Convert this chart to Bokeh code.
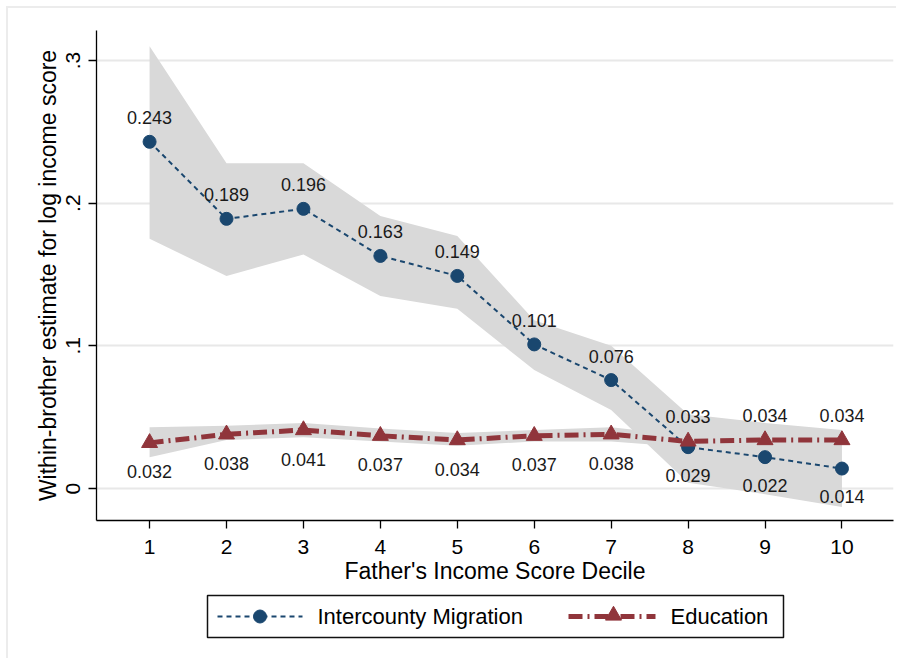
from bokeh.plotting import figure
from bokeh.layouts import column
from bokeh.models import FixedTicker, Range1d
from bokeh.core.properties import value
from bokeh.embed import file_html
from bokeh.resources import INLINE

# Father's income score deciles
deciles = [1, 2, 3, 4, 5, 6, 7, 8, 9, 10]

# Within-brother estimates: intercounty migration with its confidence band
migration = [0.243, 0.189, 0.196, 0.163, 0.149, 0.101, 0.076, 0.029, 0.022, 0.014]
migration_lo = [0.175, 0.149, 0.164, 0.135, 0.126, 0.083, 0.055, 0.004, -0.004, -0.013]
migration_hi = [0.310, 0.228, 0.228, 0.191, 0.177, 0.118, 0.100, 0.052, 0.046, 0.041]

# Within-brother estimates: education with its confidence band
education = [0.032, 0.038, 0.041, 0.037, 0.034, 0.037, 0.038, 0.033, 0.034, 0.034]
education_lo = [0.022, 0.034, 0.036, 0.033, 0.030, 0.033, 0.033, 0.029, 0.030, 0.030]
education_hi = [0.043, 0.044, 0.046, 0.042, 0.039, 0.041, 0.043, 0.037, 0.039, 0.039]

y_ticks = [0, 0.1, 0.2, 0.3]
y_tick_labels = {0: "0", 0.1: ".1", 0.2: ".2", 0.3: ".3"}

series_names = ["Intercounty Migration", "Education"]

NAVY = "#1a476f"
MAROON = "#90353b"
BAND = "#d9d9d9"
FONT = "Liberation Sans"
MIG_DASH = "5 4"
EDU_DASH = "14 5 2 5"

BORDER_L, BORDER_R = 96, 11

p = figure(
    width=904, height=590,
    output_backend="svg", toolbar_location=None,
    x_range=Range1d(0.31, 10.67), y_range=Range1d(-0.0224, 0.321),
    min_border_left=BORDER_L, min_border_right=BORDER_R, min_border_top=30, min_border_bottom=70,
    background_fill_color="white", border_fill_alpha=0,
)
p.outline_line_color = None

# axes
p.xaxis.ticker = FixedTicker(ticks=deciles)
p.yaxis.ticker = FixedTicker(ticks=y_ticks)
p.yaxis.major_label_overrides = y_tick_labels
p.yaxis.major_label_orientation = "vertical"
for ax in (p.xaxis, p.yaxis):
    ax.axis_line_color = "#000000"
    ax.axis_line_width = 1.3
    ax.major_tick_line_color = "#000000"
    ax.major_tick_line_width = 1.3
    ax.major_tick_out = 8
    ax.major_tick_in = 0
    ax.minor_tick_line_color = None
    ax.major_label_text_font = FONT
    ax.major_label_text_font_size = "21px"
    ax.major_label_text_color = "#000000"
    ax.axis_label_text_font = FONT
    ax.axis_label_text_font_size = "23px"
    ax.axis_label_text_font_style = "normal"
    ax.axis_label_text_color = "#000000"
p.xaxis.axis_label = "Father's Income Score Decile"
p.yaxis.axis_label = "Within-brother estimate for log income score"
p.xaxis.major_label_standoff = 11
p.xaxis.axis_label_standoff = 1
p.yaxis.major_label_standoff = 8
p.yaxis.axis_label_standoff = 3

# grid
p.xgrid.grid_line_color = None
p.ygrid.ticker = FixedTicker(ticks=y_ticks)
p.ygrid.grid_line_color = "#e8e8e8"
p.ygrid.grid_line_width = 2

# confidence bands
p.varea(x=deciles, y1=migration_lo, y2=migration_hi, fill_color=BAND)
p.varea(x=deciles, y1=education_lo, y2=education_hi, fill_color=BAND)

# migration series
p.line(deciles, migration, line_color=NAVY, line_width=2, line_dash=MIG_DASH)
p.scatter(deciles, migration, marker="circle", size=13, fill_color=NAVY, line_color=NAVY)

# education series
p.line(deciles, education, line_color=MAROON, line_width=5, line_dash=EDU_DASH)
p.scatter(deciles, education, marker="triangle", size=16, fill_color=MAROON, line_color=MAROON)

# value labels: migration above for deciles 1-7, below for 8-10; education the opposite
upper = [i for i in range(10) if deciles[i] <= 7]
lower = [i for i in range(10) if deciles[i] >= 8]

label_style = dict(text_font=value(FONT), text_font_size="18px", text_color="#1a1a1a",
                   text_align="center", text_baseline="alphabetic")

p.text(x=[deciles[i] for i in upper], y=[migration[i] for i in upper],
       text=[f"{migration[i]:.3f}" for i in upper], y_offset=-24, **label_style)
p.text(x=[deciles[i] for i in lower], y=[migration[i] for i in lower],
       text=[f"{migration[i]:.3f}" for i in lower], y_offset=28, **label_style)
p.text(x=[deciles[i] for i in upper], y=[education[i] for i in upper],
       text=[f"{education[i]:.3f}" for i in upper], y_offset=29, **label_style)
p.text(x=[deciles[i] for i in lower], y=[education[i] for i in lower],
       text=[f"{education[i]:.3f}" for i in lower], y_offset=-25, **label_style)

# legend strip below the chart; its frame lines up with the chart's frame,
# so the x range is expressed in page pixels and y grows downward
LG_H = 73
lg = figure(
    width=904, height=LG_H,
    output_backend="svg", toolbar_location=None,
    x_range=Range1d(BORDER_L, 904 - BORDER_R), y_range=Range1d(LG_H, 0),
    min_border_left=BORDER_L, min_border_right=BORDER_R, min_border_top=0, min_border_bottom=0,
    background_fill_alpha=0, border_fill_alpha=0,
)
lg.axis.visible = False
lg.grid.visible = False
lg.outline_line_color = None

box_l, box_r, box_t, box_b = 207, 783, 5, 47
mid = (box_t + box_b) / 2
lg.quad(left=[box_l], right=[box_r], top=[box_t], bottom=[box_b],
        fill_color="white", line_color="#111111", line_width=1.5)

# key: intercounty migration
lg.line([217, 302], [mid, mid], line_color=NAVY, line_width=2, line_dash=MIG_DASH)
lg.scatter([259.5], [mid], marker="circle", size=13, fill_color=NAVY, line_color=NAVY)
lg.text(x=[317], y=[mid], text=[series_names[0]], text_font=value(FONT), text_font_size="22px",
        text_color="#000000", text_align="left", text_baseline="middle")

# key: education
lg.line([568, 655], [mid, mid], line_color=MAROON, line_width=5, line_dash=EDU_DASH)
lg.scatter([613], [mid - 1], marker="triangle", size=16, fill_color=MAROON, line_color=MAROON)
lg.text(x=[670], y=[mid], text=[series_names[1]], text_font=value(FONT), text_font_size="22px",
        text_color="#000000", text_align="left", text_baseline="middle")

# faint outer frame of the graph region (left and top edges)
page_styles = {
    "background": (
        "linear-gradient(#ececec, #ececec) 6px 6px / 2px 652px no-repeat, "
        "linear-gradient(#ececec, #ececec) 6px 6px / 890px 2px no-repeat, white"
    ),
}
page = column(p, lg, spacing=0, styles=page_styles)

open("out.html", "w").write(file_html(page, INLINE))
